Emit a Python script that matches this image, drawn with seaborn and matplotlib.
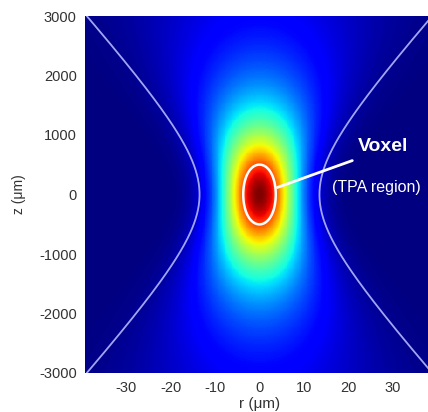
import numpy as np
import pandas as pd
import matplotlib
matplotlib.use("Agg")
import matplotlib.pyplot as plt
import seaborn as sns

# ---- chart values ----
r_limits_um = [-39.3, 39.3]          # radial extent of the map
z_limits_um = [-3000.0, 3000.0]      # axial extent of the map
x_tick_values = [-30, -20, -10, 0, 10, 20, 30]
y_tick_values = [-3000, -2000, -1000, 0, 1000, 2000, 3000]
beam_waist_um = 12.0                 # 1/e^2 waist used for the intensity map
rayleigh_range_um = 1110.0           # Rayleigh range of the focused beam
boundary_waist_um = 13.5             # waist of the drawn beam-boundary hyperbola
voxel_level = [0.83]                 # normalised intensity level bounding the TPA voxel
label_voxel = "Voxel"
label_tpa = "(TPA region)"
label_x = "r (μm)"
label_y = "z (μm)"
voxel_text_rz = [27.9, 800.0]
tpa_text_rz = [16.3, 118.0]
pointer_start_rz = [4.0, 118.0]
pointer_end_rz = [20.9, 570.0]

n_r, n_z = 400, 400

sns.set_theme(style="white")
plt.rcParams["font.family"] = ["Liberation Sans", "DejaVu Sans"]

# intensity grid (rows from top z to bottom z, as heatmap rows go downward)
r_centers = np.linspace(r_limits_um[0], r_limits_um[1], n_r + 1)
r_centers = 0.5 * (r_centers[:-1] + r_centers[1:])
z_edges = np.linspace(z_limits_um[1], z_limits_um[0], n_z + 1)
z_centers = 0.5 * (z_edges[:-1] + z_edges[1:])
R, Z = np.meshgrid(r_centers, z_centers)
W = beam_waist_um * np.sqrt(1.0 + (Z / rayleigh_range_um) ** 2)
I = (beam_waist_um / W) ** 2 * np.exp(-2.0 * R ** 2 / W ** 2)
df = pd.DataFrame(I, index=np.round(z_centers, 1), columns=np.round(r_centers, 2))


def rx(r):
    return (np.asarray(r) - r_limits_um[0]) / (r_limits_um[1] - r_limits_um[0]) * n_r


def zy(z):
    return (z_limits_um[1] - np.asarray(z)) / (z_limits_um[1] - z_limits_um[0]) * n_z


fig = plt.figure(figsize=(4.28, 4.12), dpi=100)
ax = fig.add_axes([85 / 428, (412 - 373) / 412, (434 - 85) / 428, (373 - 16) / 412])

sns.heatmap(df, ax=ax, cmap="jet", vmin=0.0, vmax=1.0, cbar=False,
            xticklabels=False, yticklabels=False, rasterized=True)

# beam boundary hyperbolas
z_line = np.linspace(z_limits_um[0], z_limits_um[1], 400)
w_line = boundary_waist_um * np.sqrt(1.0 + (z_line / rayleigh_range_um) ** 2)
for sgn in (-1, 1):
    ax.plot(rx(sgn * w_line), zy(z_line), color="#b4b8ff", lw=1.3, alpha=0.9)

# voxel contour
ax.contour(rx(R), zy(Z), I, levels=voxel_level, colors="white", linewidths=1.8)

# pointer and texts
ax.plot(rx([pointer_start_rz[0], pointer_end_rz[0]]), zy([pointer_start_rz[1], pointer_end_rz[1]]),
        color="white", lw=2.0, solid_capstyle="round")
ax.text(rx(voxel_text_rz[0]), zy(voxel_text_rz[1]), label_voxel, color="white",
        fontsize=14, fontweight="bold", ha="center", va="center")
ax.text(rx(tpa_text_rz[0]), zy(tpa_text_rz[1]), label_tpa, color="white",
        fontsize=11.5, ha="left", va="center")

ax.set_xticks(rx(x_tick_values))
ax.set_xticklabels([str(v) for v in x_tick_values], rotation=0)
ax.set_yticks(zy(y_tick_values))
ax.set_yticklabels([str(v) for v in y_tick_values], rotation=0)
ax.tick_params(axis="both", length=0, labelsize=10.5, labelcolor="#333333")
ax.tick_params(axis="x", pad=6)
ax.tick_params(axis="y", pad=6)
ax.set_xlabel(label_x, fontsize=11, color="#333333", labelpad=1)
ax.set_ylabel(label_y, fontsize=10, color="#333333", labelpad=9)

fig.savefig("out.png", dpi=100, facecolor="white")
